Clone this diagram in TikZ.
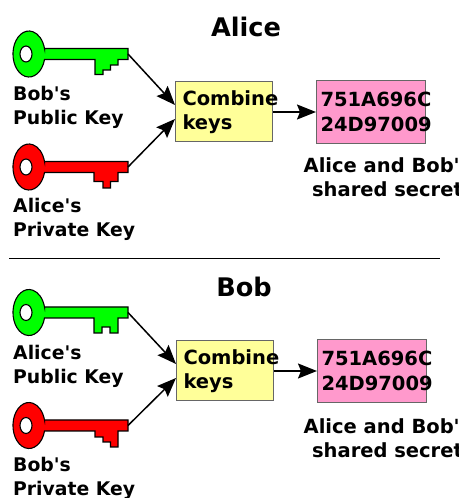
\documentclass[tikz,border=0pt]{standalone}
\usepackage{fontspec}
\setmainfont{DejaVu Sans}
\usetikzlibrary{arrows.meta,positioning,calc}

\definecolor{boxyellow}{HTML}{FFFF99}
\definecolor{boxpink}{HTML}{FF99CC}
\definecolor{boxedge}{HTML}{666666}

\tikzset{
    keyedge/.style={draw=black,line width=1.1pt,line join=miter},
    keylabel/.style={anchor=north west,inner sep=0pt,align=left,font=\fontsize{18.8}{24}\selectfont\bfseries},
    headline/.style={inner sep=0pt,font=\fontsize{25.6}{30}\selectfont\bfseries},
    combinebox/.style={draw=boxedge,fill=boxyellow,line width=1pt,minimum height=60pt,text width=83pt,inner xsep=7pt,inner ysep=0pt,align=left,font=\fontsize{19.5}{24.5}\selectfont\bfseries},
    secretbox/.style={draw=boxedge,fill=boxpink,line width=1pt,minimum height=63.5pt,text width=101pt,inner xsep=4pt,inner ysep=0pt,align=left,font=\fontsize{19.5}{24.5}\selectfont\bfseries},
    secretlabel/.style={inner sep=0pt,align=center,font=\fontsize{19.5}{24.5}\selectfont\bfseries},
    flow/.style={-{Stealth[length=19pt,width=15pt,inset=3pt]},line width=1.5pt},
}

% name, height of the shaft centre, colour, teeth
\newcommand{\drawkey}[4]{
    \filldraw[keyedge,fill=#3] (44.5,#2+5.5) -- (128,#2+5.5) -- (128,#2-5.5) #4 -- (44.5,#2-5.5)
        arc[start angle=-13.8,end angle=-346.2,x radius=16,y radius=23] -- cycle;
    \filldraw[keyedge,fill=white] (26,#2) ellipse (6 and 8);
    \coordinate (#1) at (128,#2);
}

\begin{document}
\begin{tikzpicture}[x=1pt,y=1pt]
    \useasboundingbox (0,0) rectangle (458,498);

    % top half
    \node[headline] (alicetitle) at (246,471) {Alice};
    \drawkey{bobpublic}{444}{green}{-- ++(-10,0) -- ++(0,-5.5) -- ++(-7.5,0) -- ++(0,-5) -- ++(-7.5,0) -- ++(0,-4.5) -- ++(-8,0) -- ++(0,15)}
    \drawkey{alicesecret}{331}{red}{-- ++(-10,0) -- ++(0,-9) -- ++(-7.5,0) -- ++(0,-6.5) -- ++(-7.5,0) -- ++(0,6.5) -- ++(-9,0) -- ++(0,9)}
    \node[keylabel] (bobpubliclabel) at (13,412) {Bob\textquotesingle s\\Public Key};
    \node[keylabel] (alicesecretlabel) at (13,300) {Alice\textquotesingle s\\Private Key};
    \node[combinebox] (alicecombine) at (224,386) {Combine\\keys};
    \node[secretbox] (alicesecretbox) at (371,386) {751A696C\\24D97009};
    \node[secretlabel] (aliceshared) at (387.5,321) {Alice and Bob\textquotesingle s\\shared secret};
    \draw[flow] (bobpublic) -- ($(alicecombine.west)+(0,7)$);
    \draw[flow] (alicesecret) -- ($(alicecombine.west)+(0,-7)$);
    \draw[flow] (alicecombine) -- (alicesecretbox);

    % divider
    \coordinate (ruleleft) at (9,239);
    \coordinate (ruleright) at (440,239);
    \draw[line width=1pt] (ruleleft) -- (ruleright);

    % bottom half
    \node[headline] (bobtitle) at (244,211) {Bob};
    \drawkey{alicepublic}{185.5}{green}{-- ++(-10,0) -- ++(0,-15) -- ++(-8,0) -- ++(0,6) -- ++(-8,0) -- ++(0,-6) -- ++(-8,0) -- ++(0,15)}
    \drawkey{bobsecret}{72.5}{red}{-- ++(-10,0) -- ++(0,-16) -- ++(-7.5,0) -- ++(0,5) -- ++(-7.5,0) -- ++(0,5) -- ++(-8,0) -- ++(0,6)}
    \node[keylabel] (alicepubliclabel) at (13,153) {Alice\textquotesingle s\\Public Key};
    \node[keylabel] (bobsecretlabel) at (13,41) {Bob\textquotesingle s\\Private Key};
    \node[combinebox] (bobcombine) at (225,127) {Combine\\keys};
    \node[secretbox] (bobsecretbox) at (372,127) {751A696C\\24D97009};
    \node[secretlabel] (bobshared) at (387.5,60) {Alice and Bob\textquotesingle s\\shared secret};
    \draw[flow] (alicepublic) -- ($(bobcombine.west)+(0,7)$);
    \draw[flow] (bobsecret) -- ($(bobcombine.west)+(0,-7)$);
    \draw[flow] (bobcombine) -- (bobsecretbox);
\end{tikzpicture}
\end{document}
